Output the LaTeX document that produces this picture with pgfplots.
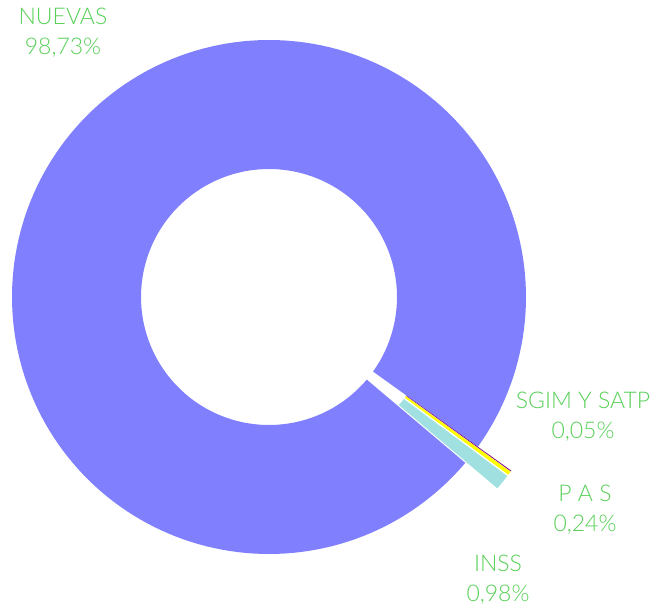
\documentclass[border=0pt]{standalone}
\usepackage{pgfplots}
\pgfplotsset{compat=1.18}
\usepackage{fontspec}
\setmainfont{Lato Light}
\definecolor{cNuevas}{RGB}{128,128,255}
\definecolor{cInss}{RGB}{160,224,224}
\definecolor{cPas}{RGB}{255,255,0}
\definecolor{cSgim}{RGB}{128,0,128}
\definecolor{cLbl}{RGB}{88,208,88}
% data (percent)
\def\pInss{0.98}
\def\pPas{0.24}
\def\pSgim{0.05}
\def\pNuevas{98.73}
\def\Rout{257}\def\Rin{128}\def\cx{269}\def\cy{314}\def\expl{41}
\newcommand{\ringsector}[5]{% color, a, b, ox, oy
  \addplot[fill=#1, draw=none, samples at={0,...,401}]
   ({#4+((x<=200)*\Rout+(x>200)*\Rin)*cos((x<=200)*(#2+(#3-#2)*x/200)+(x>200)*(#3-(#3-#2)*(x-201)/200))},
    {#5+((x<=200)*\Rout+(x>200)*\Rin)*sin((x<=200)*(#2+(#3-#2)*x/200)+(x>200)*(#3-(#3-#2)*(x-201)/200))});
}
\begin{document}
\begin{tikzpicture}
\pgfmathsetmacro{\aI}{-40.2}
\pgfmathsetmacro{\bI}{\aI+3.6*\pInss}
\pgfmathsetmacro{\bP}{\bI+3.6*\pPas}
\pgfmathsetmacro{\bS}{\bP+3.6*\pSgim}
\pgfmathsetmacro{\bN}{\bS+3.6*\pNuevas}
\pgfmathsetmacro{\mI}{(\aI+\bI)/2}
\pgfmathsetmacro{\mP}{(\bI+\bP)/2}
\pgfmathsetmacro{\mS}{(\bP+\bS)/2}
\pgfmathsetmacro{\oxI}{\cx+\expl*cos(\mI)}\pgfmathsetmacro{\oyI}{\cy+\expl*sin(\mI)}
\pgfmathsetmacro{\oxP}{\cx+\expl*cos(\mP)}\pgfmathsetmacro{\oyP}{\cy+\expl*sin(\mP)}
\pgfmathsetmacro{\oxS}{\cx+\expl*cos(\mS)}\pgfmathsetmacro{\oyS}{\cy+\expl*sin(\mS)}
\begin{axis}[x=1pt, y=1pt, xmin=0, xmax=662, ymin=0, ymax=611,
  hide axis, clip=false, scale only axis]
\ringsector{cNuevas}{\bS}{\bN}{\cx}{\cy}
\ringsector{cInss}{\aI}{\bI}{\oxI}{\oyI}
\ringsector{cPas}{\bI}{\bP}{\oxP}{\oyP}
\ringsector{cSgim}{\bP}{\bS}{\oxS}{\oyS}
\coordinate (ll) at (axis cs:0,0);
\coordinate (ur) at (axis cs:662,611);
\begin{scope}[every node/.style={align=center, text=cLbl, font=\fontsize{23}{30}\selectfont}]
\node at (axis cs:63,578) {NUEVAS\\98,73\%};
\node at (axis cs:583,194) {SGIM Y SATP\\0,05\%};
\node at (axis cs:585,101) {P A S\\0,24\%};
\node at (axis cs:498,31) {INSS\\0,98\%};
\end{scope}
\end{axis}
\pgfresetboundingbox
\path (ll) rectangle (ur);
\end{tikzpicture}
\end{document}
